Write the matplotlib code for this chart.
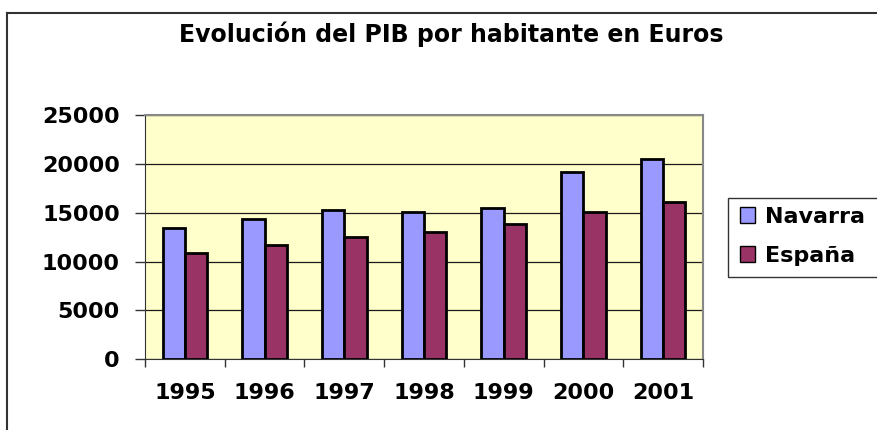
import matplotlib
matplotlib.use("Agg")
import matplotlib.pyplot as plt
import numpy as np
from matplotlib.lines import Line2D
from matplotlib.patches import Rectangle

years = ["1995", "1996", "1997", "1998", "1999", "2000", "2001"]
navarra = [13470, 14330, 15280, 15080, 15520, 19140, 20530]
espana = [10850, 11670, 12520, 13060, 13880, 15080, 16130]
series_names = ["Navarra", "España"]
yticks = [0, 5000, 10000, 15000, 20000, 25000]

W, H = 878, 430
fig = plt.figure(figsize=(W / 100, H / 100), dpi=100)
fig.patch.set_facecolor("white")

# outer chart border (top and left visible)
fig.add_artist(Line2D([7 / W, 1.01], [1 - 12.5 / H] * 2, color="#333333", lw=1.5, transform=fig.transFigure))
fig.add_artist(Line2D([7 / W, 7 / W], [-0.01, 1 - 12.5 / H], color="#333333", lw=1.5, transform=fig.transFigure))

left, right, top, bottom = 145, 703, 115, 359.3
ax = fig.add_axes([left / W, 1 - bottom / H, (right - left) / W, (bottom - top) / H])
ax.set_facecolor("#FFFFCC")

x = np.arange(len(years))
w = 0.28
ax.bar(x - w / 2, navarra, width=w, color="#9999FF", edgecolor="black", linewidth=2, label=series_names[0], zorder=3)
ax.bar(x + w / 2, espana, width=w, color="#993366", edgecolor="black", linewidth=2, label=series_names[1], zorder=3)

ax.set_xlim(-0.5, len(years) - 0.5)
ax.set_ylim(0, 25000)
ax.set_yticks(yticks)
ax.set_yticklabels([str(v) for v in yticks])
ax.yaxis.grid(True, color="#1a1a1a", linewidth=0.9, zorder=1)
ax.set_axisbelow(True)

ax.set_xticks(x)
ax.set_xticklabels(years)
ax.set_xticks(np.arange(-0.5, len(years), 1.0), minor=True)
ax.tick_params(axis="x", which="major", length=0, pad=17)
ax.tick_params(axis="x", which="minor", length=6, color="#333333", width=1)
ax.tick_params(axis="y", length=7, color="#333333", width=1, pad=11)

for lab in ax.get_xticklabels() + ax.get_yticklabels():
    lab.set_fontfamily("DejaVu Sans")
    lab.set_fontweight("bold")
    lab.set_fontsize(16)

ax.spines["top"].set_color("#888888")
ax.spines["right"].set_color("#888888")
ax.spines["top"].set_linewidth(1.5)
ax.spines["right"].set_linewidth(1.5)
ax.spines["left"].set_color("#333333")
ax.spines["bottom"].set_color("#333333")

fig.text(451 / W, 1 - 42 / H, "Evolución del PIB por habitante en Euros",
         ha="center", va="baseline", fontsize=17, fontweight="bold", family="DejaVu Sans")

# legend frame extending past the right edge, as in the reference
fig.add_artist(Rectangle((728 / W, 1 - 277 / H), 170 / W, 79 / H, transform=fig.transFigure,
                         facecolor="white", edgecolor="#333333", linewidth=1.0, zorder=2))
leg = fig.legend(loc="upper left", bbox_to_anchor=(733 / W, 1 - 200 / H),
                 frameon=False,
                 prop={"family": "DejaVu Sans", "weight": "bold", "size": 16},
                 handlelength=0.7, handleheight=0.7, handletextpad=0.45,
                 borderpad=0.3, labelspacing=0.85, borderaxespad=0)
leg.set_zorder(3)
for p in leg.get_patches():
    p.set_linewidth(1.0)

fig.savefig("out.png", dpi=100)
